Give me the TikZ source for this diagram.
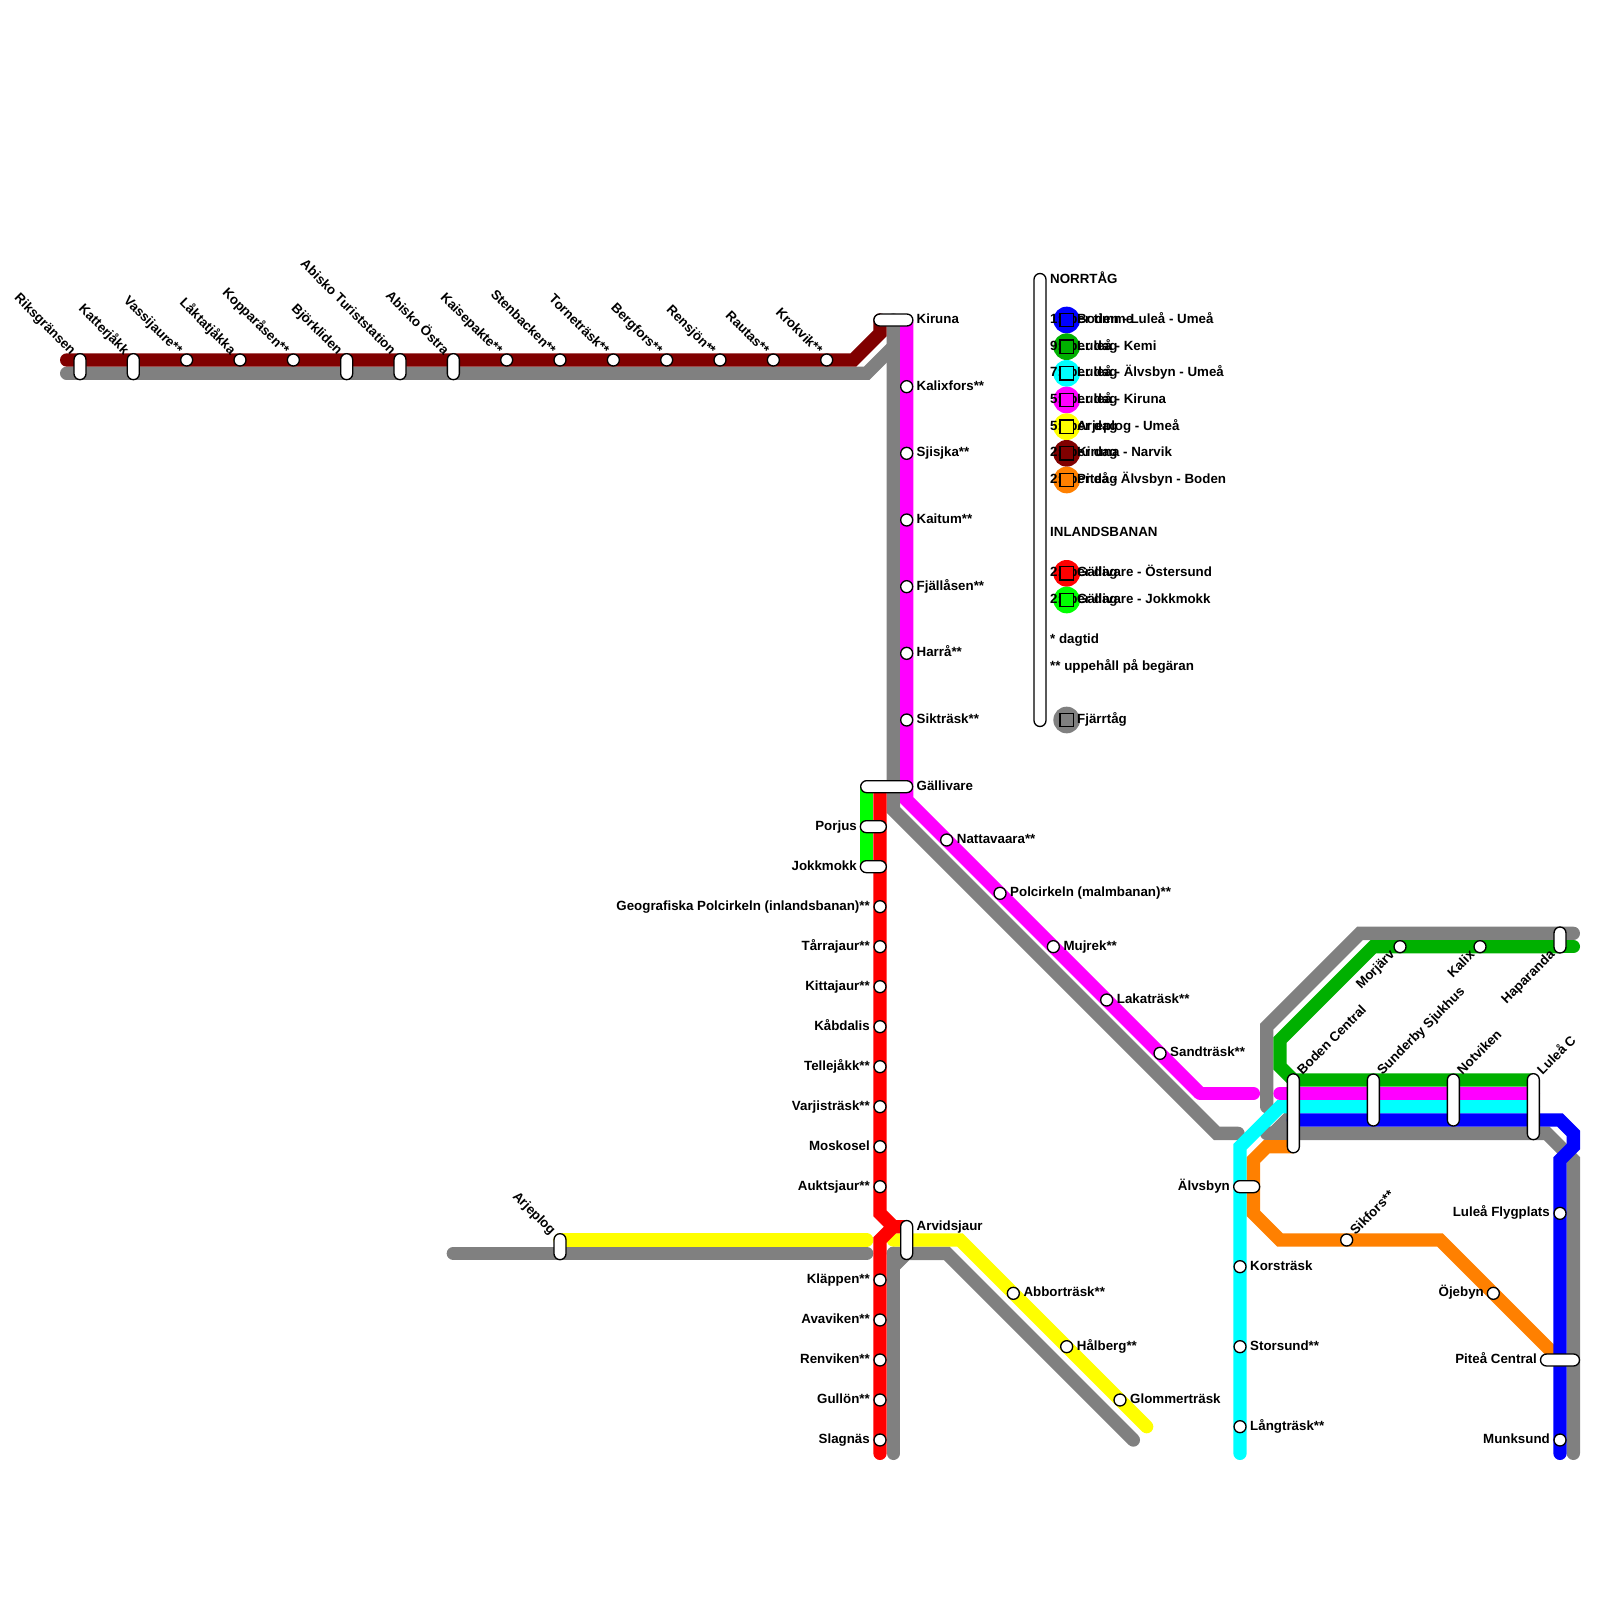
\documentclass[tikz,border=0pt]{standalone}
\usepackage{fontspec}
\setmainfont{Liberation Sans}
\usetikzlibrary{shapes.misc}
\definecolor{lnGrey}{HTML}{808080}
\definecolor{lnBlue}{HTML}{0000FF}
\definecolor{lnGreen}{HTML}{00B000}
\definecolor{lnCyan}{HTML}{00FFFF}
\definecolor{lnMag}{HTML}{FF00FF}
\definecolor{lnYel}{HTML}{FFFF00}
\definecolor{lnDark}{HTML}{800000}
\definecolor{lnOr}{HTML}{FF8000}
\definecolor{lnRed}{HTML}{FF0000}
\definecolor{lnLime}{HTML}{00FF00}
\tikzset{
  track/.style={line width=13.33pt,line cap=round,line join=miter},
  flat/.style={line width=13.33pt,line join=miter},
  stn/.style={circle,draw=black,fill=white,line width=1.33pt,minimum size=12pt,inner sep=0pt},
  pill/.style={rounded rectangle,draw=black,fill=white,line width=1.33pt,minimum height=12pt,minimum width=#1,inner sep=0pt},
  vpill/.style={pill=#1,rotate=90},
  txt/.style={font=\fontsize{13.33}{15}\bfseries,text height=9pt,text depth=2pt,inner sep=0pt},
  rlab/.style={txt,anchor=west},
  llab/.style={txt,anchor=east},
  legdot/.style={circle,minimum size=26.67pt,inner sep=0pt},
  legbox/.style={rectangle,draw=black,line width=1.33pt,minimum size=13.33pt,inner sep=0pt}
}
\begin{document}
\begin{tikzpicture}[x=1pt,y=-1pt]
\useasboundingbox (0,0) rectangle (1600,1600);
% fjarrtag
\draw[track,lnGrey] (66.67,373.33)--(866.67,373.33)--(893.33,346.67);
\draw[track,lnGrey] (893.33,320)--(893.33,810)--(1216.67,1133.33)--(1238,1133.33);
\draw[track,lnGrey] (1573.33,933.33)--(1360,933.33)--(1266.67,1026.67)--(1266.67,1106.67);
\draw[track,lnGrey] (1293.33,1113.33)--(1273.33,1133.33)--(1266.67,1133.33);
\draw[track,lnGrey] (1266.67,1133.33)--(1546.67,1133.33)--(1573.33,1160)--(1573.33,1453.33);
\draw[track,lnGrey] (453.33,1253.33)--(866.67,1253.33);
\draw[track,lnGrey] (893.33,1453.33)--(893.33,1253.33);
\draw[flat,lnGrey] (893.33,1266.67)--(906.67,1253.33);
\draw[track,lnGrey] (893.33,1253.33)--(946.67,1253.33)--(1133.33,1440);
% lokala linjer
\draw[flat,lnLime] (866.67,786.67)--(866.67,866.67);
\draw[flat,lnDark] (66.67,360) [line cap=round] --(853.33,360)--(880,333.33)--(880,320);
\draw[flat,lnMag] (906.67,320)--(906.67,800)--(1200,1093.33);
\draw[track,lnMag] (1200,1093.33)--(1253.33,1093.33);
\draw[track,lnYel] (560,1240)--(866.67,1240);
\draw[track,lnYel] (893.33,1240)--(960,1240)--(1146.67,1426.67);
\draw[flat,lnOr] (1293.33,1146.67)--(1266.67,1146.67)--(1253.33,1160)--(1253.33,1213.33)--(1280,1240)--(1440,1240)--(1560,1360);
\draw[flat,lnRed] (880,786.67)--(880,1213.33)--(893.33,1226.67)--(906.67,1226.67);
\draw[track,lnRed] (893.33,1226.67)--(880,1240)--(880,1453.33);
\draw[flat,lnGreen] (1533.33,1080)--(1293.33,1080)--(1280,1066.67)--(1280,1040)--(1373.33,946.67)--(1560,946.67);
\draw[track,lnGreen] (1560,946.67)--(1573.33,946.67);
\draw[track,lnMag] (1533.33,1093.33)--(1280,1093.33);
\draw[track,lnCyan] (1533.33,1106.67)--(1280,1106.67)--(1240,1146.67)--(1240,1453.33);
\draw[track,lnBlue] (1293.33,1120)--(1560,1120)--(1573.33,1133.33)--(1573.33,1146.67)--(1560,1160)--(1560,1453.33);
% malmbanan overst
\foreach \x/\nm/\txt in {186.67/vass/Vassijaure**,240/lakt/Låktatjåkka,293.33/kopp/Kopparåsen**,506.67/kais/Kaisepakte**,560/sten/Stenbacken**,613.33/torn/Torneträsk**,666.67/berg/Bergfors**,720/rens/Rensjön**,773.33/raut/Rautas**,826.67/krok/Krokvik**}
  {\node[stn] (\nm) at (\x,360) {};
   \node[llab,rotate=-45] (\nm l) at (\x-7,353) {\txt};}
\foreach \x/\nm/\txt in {80/riks/Riksgränsen,133.33/katt/Katterjåkk,346.67/bjor/Björkliden,400/abit/Abisko Turiststation,453.33/abio/Abisko Östra}
  {\node[vpill=26] (\nm) at (\x,366.67) {};
   \node[llab,rotate=-45] (\nm l) at (\x-7,353) {\txt};}
% kiruna till gallivare
\node[pill=39] (kir) at (893.33,320) {};
\node[rlab] (kirl) at (916.5,320) {Kiruna};
\foreach \y/\nm/\txt in {386.67/kalf/Kalixfors**,453.33/sjis/Sjisjka**,520/kait/Kaitum**,586.67/fjal/Fjällåsen**,653.33/harr/Harrå**,720/sikt/Sikträsk**}
  {\node[stn] (\nm) at (906.67,\y) {};
   \node[rlab] (\nm l) at (916.5,\y) {\txt};}
\node[pill=52] (gal) at (886.67,786.67) {};
\node[rlab] (gall) at (916.5,786.67) {Gällivare};
\foreach \x/\y/\nm/\txt in {946.67/840/natt/Nattavaara**,1000/893.33/polm/Polcirkeln (malmbanan)**,1053.33/946.67/muj/Mujrek**,1106.67/1000/lak/Lakaträsk**,1160/1053.33/sand/Sandträsk**}
  {\node[stn] (\nm) at (\x,\y) {};
   \node[rlab] (\nm l) at (\x+10,\y) {\txt};}
% inlandsbanan
\node[pill=26] (porj) at (873.33,826.67) {};
\node[llab] (porjl) at (857,826.67) {Porjus};
\node[pill=26] (jokk) at (873.33,866.67) {};
\node[llab] (jokkl) at (857,866.67) {Jokkmokk};
\foreach \y/\nm/\txt in {906.67/poli/Geografiska Polcirkeln (inlandsbanan)**,946.67/tarr/Tårrajaur**,986.67/kitt/Kittajaur**,1026.67/kabd/Kåbdalis,1066.67/tell/Tellejåkk**,1106.67/varj/Varjisträsk**,1146.67/mosk/Moskosel,1186.67/aukt/Auktsjaur**,1280/klap/Kläppen**,1320/avav/Avaviken**,1360/renv/Renviken**,1400/gull/Gullön**,1440/slag/Slagnäs}
  {\node[stn] (\nm) at (880,\y) {};
   \node[llab] (\nm l) at (870,\y) {\txt};}
\node[vpill=39] (arvi) at (906.67,1240) {};
\node[rlab] (arvil) at (916.5,1226.67) {Arvidsjaur};
\node[vpill=26] (arje) at (560,1246.67) {};
\node[llab,rotate=-45] (arjel) at (553,1233) {Arjeplog};
\foreach \x/\y/\nm/\txt in {1013.33/1293.33/abbo/Abborträsk**,1066.67/1346.67/halb/Hålberg**,1120/1400/glom/Glommerträsk}
  {\node[stn] (\nm) at (\x,\y) {};
   \node[rlab] (\nm l) at (\x+10,\y) {\txt};}
% alvsbyn
\node[pill=26] (alvs) at (1246.67,1186.67) {};
\node[llab] (alvsl) at (1230,1186.67) {Älvsbyn};
\foreach \y/\nm/\txt in {1266.67/kors/Korsträsk,1346.67/stor/Storsund**,1426.67/lang/Långträsk**}
  {\node[stn] (\nm) at (1240,\y) {};
   \node[rlab] (\nm l) at (1250,\y) {\txt};}
\node[stn] (sikf) at (1346.67,1240) {};
\node[txt,anchor=west,rotate=45] (sikfl) at (1353,1233) {Sikfors**};
\node[stn] (ojeb) at (1493.33,1293.33) {};
\node[llab] (ojebl) at (1484,1293.33) {Öjebyn};
% boden - lulea - haparanda
\node[vpill=79] (bode) at (1293.33,1113.33) {};
\node[txt,anchor=west,rotate=45] (bodel) at (1300,1073) {Boden Central};
\node[vpill=52] (sund) at (1373.33,1100) {};
\node[txt,anchor=west,rotate=45] (sundl) at (1380,1073) {Sunderby Sjukhus};
\node[vpill=52] (notv) at (1453.33,1100) {};
\node[txt,anchor=west,rotate=45] (notvl) at (1460,1073) {Notviken};
\node[vpill=66] (lulc) at (1533.33,1106.67) {};
\node[txt,anchor=west,rotate=45] (lulcl) at (1540,1073) {Luleå C};
\node[vpill=26] (hapa) at (1560,940) {};
\node[txt,anchor=east,rotate=45] (hapal) at (1553,953) {Haparanda};
\node[stn] (morj) at (1400,946.67) {};
\node[txt,anchor=east,rotate=45] (morjl) at (1393,953) {Morjärv};
\node[stn] (kali) at (1480,946.67) {};
\node[txt,anchor=east,rotate=45] (kalil) at (1473,953) {Kalix};
\node[stn] (flyg) at (1560,1213.33) {};
\node[llab] (flygl) at (1550,1213.33) {Luleå Flygplats};
\node[pill=39] (pite) at (1560,1360) {};
\node[llab] (pitel) at (1537,1360) {Piteå Central};
\node[stn] (munk) at (1560,1440) {};
\node[llab] (munkl) at (1550,1440) {Munksund};
% legend
\node[vpill=453] (legbar) at (1040,500) {};
\node[rlab] (legn) at (1050,280) {NORRTÅG};
\node[rlab] (legi) at (1050,533.33) {INLANDSBANAN};
\foreach \y/\c/\nm/\fq/\txt in {320/lnBlue/lga/1:~~per timme/Boden - Luleå - Umeå,346.67/lnGreen/lgb/9:~~per dag/Luleå - Kemi,373.33/lnCyan/lgc/7:~~per dag/Luleå - Älvsbyn - Umeå,400/lnMag/lgd/5:~~per dag/Luleå - Kiruna,426.67/lnYel/lge/5:~~per dag/Arjeplog - Umeå,453.33/lnDark/lgf/2:~~per dag/Kiruna - Narvik,480/lnOr/lgg/2:~~per dag/Piteå - Älvsbyn - Boden,573.33/lnRed/lgh/2:~~per dag/Gällivare - Östersund,600/lnLime/lgi/2:~~per dag/Gällivare - Jokkmokk}
  {\node[legdot,fill=\c] (\nm) at (1066.67,\y) {};
   \node[rlab] (\nm f) at (1050,\y) {\fq};
   \node[legbox,fill=\c] (\nm b) at (1066.67,\y) {};
   \node[rlab] (\nm t) at (1077,\y) {\txt};}
\node[rlab] (legd) at (1050,640) {* dagtid};
\node[rlab] (legu) at (1050,666.67) {** uppehåll på begäran};
\node[legdot,fill=lnGrey] (lgj) at (1066.67,720) {};
\node[legbox,fill=lnGrey] (lgjb) at (1066.67,720) {};
\node[rlab] (lgjt) at (1077,720) {Fjärrtåg};
\end{tikzpicture}
\end{document}
